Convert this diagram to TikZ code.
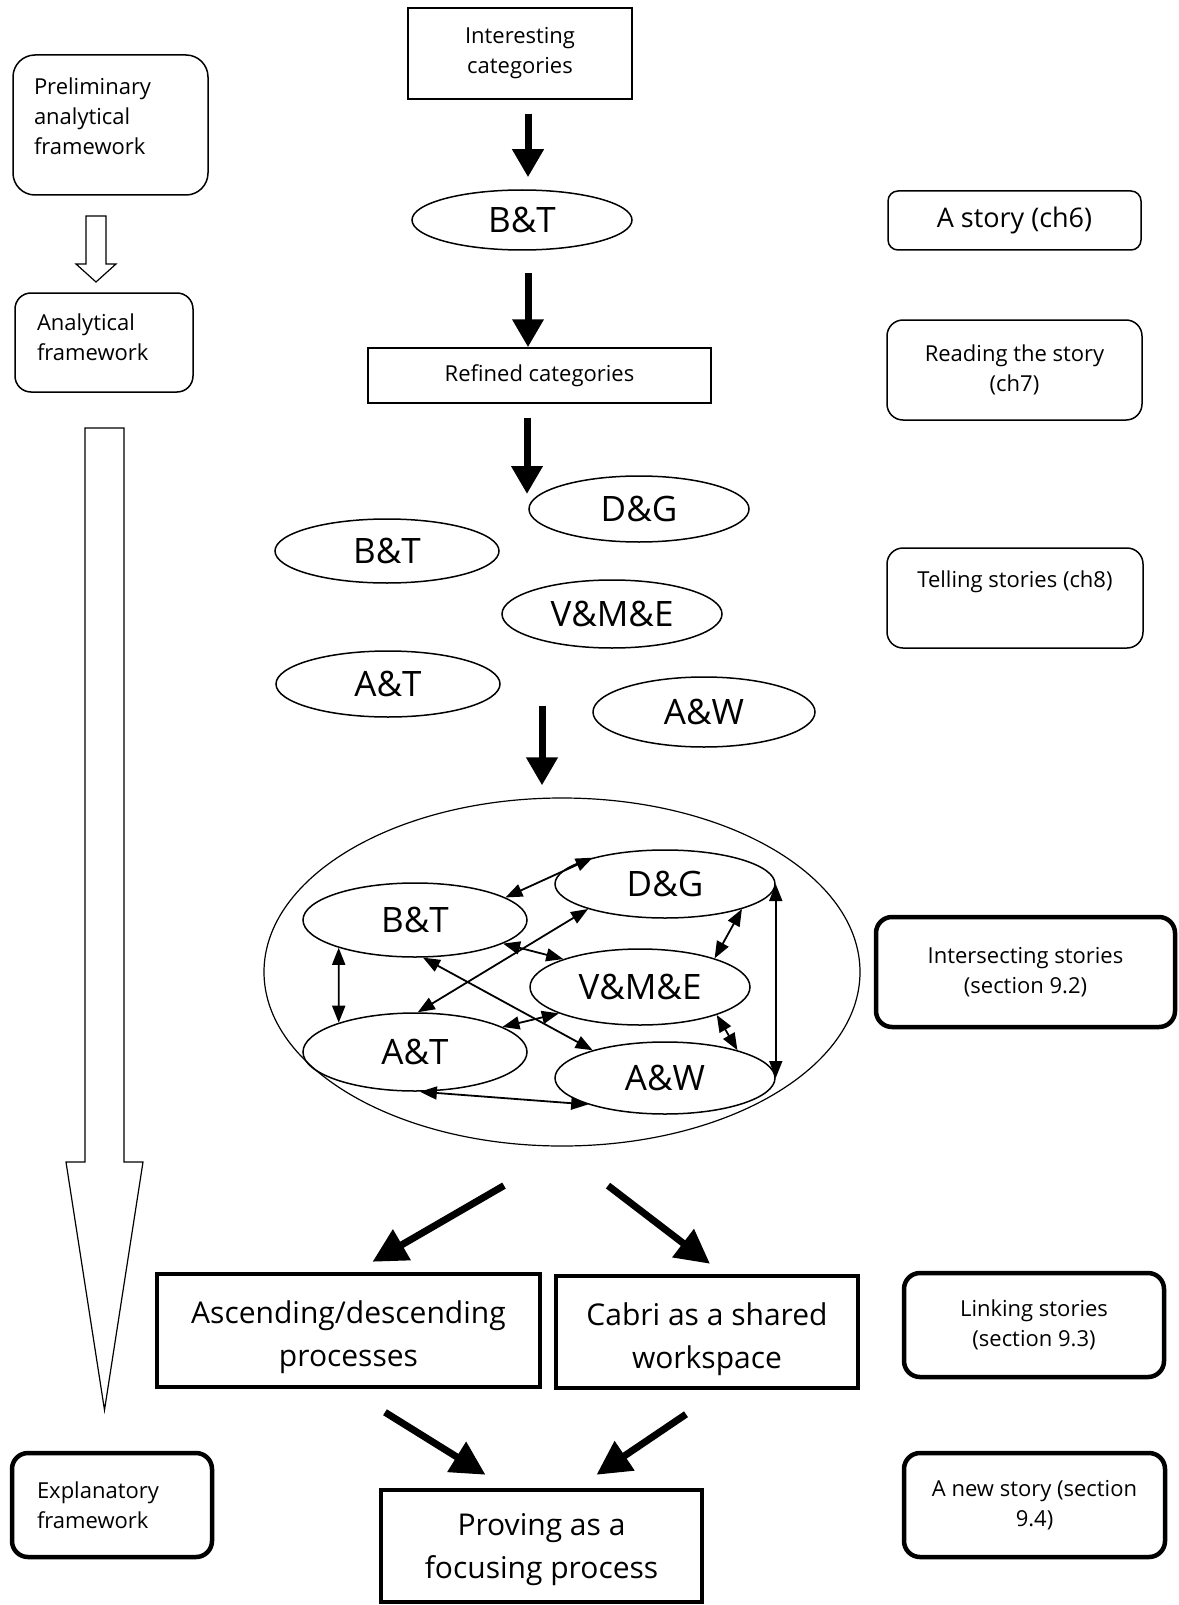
\documentclass[tikz,border=0pt]{standalone}
\usepackage{fontspec}
\setmainfont{Open Sans}
\usepackage{tikz}
\usetikzlibrary{arrows.meta, shapes.geometric}

\begin{document}
\begin{tikzpicture}[x=1pt, y=-1pt,
    txt/.style={font=\fontsize{22}{30}\selectfont},
    catbox/.style={draw, line width=1.5pt, inner sep=0pt, align=center, txt},
    oval/.style={draw, ellipse, line width=1.5pt, inner sep=0pt, font=\fontsize{35}{40}\selectfont},
    story/.style={draw, rounded corners=16pt, line width=1.5pt, inner sep=0pt, align=center, txt},
    boldstory/.style={story, line width=4.5pt},
    bigbox/.style={draw, line width=4.5pt, inner sep=0pt, align=center, text depth=0pt, text height=72pt, font=\fontsize{30}{43}\selectfont},
    bigarr/.style={line width=7pt, -{Triangle[length=28pt, width=30pt]}},
    lowarr/.style={line width=7pt, -{Triangle[length=34pt, width=34pt]}},
    linkarr/.style={line width=1.8pt, {Triangle[length=17pt, width=13pt]}-{Triangle[length=17pt, width=13pt]}},
    hollow/.style={draw, line width=1.2pt, fill=white}
]
    \useasboundingbox (0,0) rectangle (1178,1605);

    % Left column
    \node[story, rounded corners=22pt, minimum width=195pt, minimum height=140pt, text width=153pt, align=left, text depth=78pt] (prelim) at (110.5,125) {Preliminary\\analytical\\framework};
    \node[story, minimum width=178pt, minimum height=99pt, text width=134pt, align=left, text depth=41pt] (anal) at (104,342.5) {Analytical\\framework};
    \node[boldstory, minimum width=200pt, minimum height=104pt, text width=150pt, align=left] (expl) at (112,1505) {Explanatory\\framework};
    \draw[hollow] (86,216) -- (106,216) -- (106,264) -- (116,264) -- (96,282) -- (76,264) -- (86,264) -- cycle;
    \draw[hollow] (85,428) -- (124,428) -- (124,1162) -- (143,1162) -- (104.5,1410) -- (66,1162) -- (85,1162) -- cycle;

    % Categories
    \node[catbox, minimum width=224pt, minimum height=91pt] (int) at (520,53.5) {Interesting\\categories};
    \node[oval, minimum width=220pt, minimum height=60pt] (bt) at (522,220) {B\&T};
    \node[catbox, minimum width=343pt, minimum height=55pt] (ref) at (539.5,375.5) {Refined categories};
    \coordinate (mid) at (527,494);
    \coordinate (fork) at (542,706);

    \draw[bigarr, shorten <=14pt, shorten >=12pt] ([xshift=8pt]int.south) -- ([xshift=6pt]bt.north);
    \draw[bigarr, shorten <=22pt] ([xshift=6pt]bt.south) -- ([xshift=-11.5pt]ref.north);
    \draw[bigarr, shorten <=14pt] (ref.south -| mid) -- (mid);

    % Scattered categories
    \node[oval, minimum width=220pt, minimum height=66pt] (dg) at (639,509) {D\&G};
    \node[oval, minimum width=224pt, minimum height=64pt] (bt2) at (387,551) {B\&T};
    \node[oval, minimum width=220pt, minimum height=68pt] (vme) at (612,614) {V\&M\&E};
    \node[oval, minimum width=224pt, minimum height=66pt] (at) at (388,684) {A\&T};
    \node[oval, minimum width=222pt, minimum height=70pt] (aw) at (704,712) {A\&W};

    % Intersecting categories
    \node[draw, ellipse, line width=1.2pt, minimum width=596pt, minimum height=348pt] (big) at (562,972) {};
    \draw[bigarr, shorten >=12pt] (fork) -- (fork |- big.north);
    \node[oval, minimum width=220pt, minimum height=68pt] (idg) at (665,884) {D\&G};
    \node[oval, minimum width=224pt, minimum height=74pt] (ibt) at (415,920) {B\&T};
    \node[oval, minimum width=220pt, minimum height=76pt] (ivme) at (640,987) {V\&M\&E};
    \node[oval, minimum width=224pt, minimum height=78pt] (iat) at (415,1052) {A\&T};
    \node[oval, minimum width=220pt, minimum height=72pt] (iaw) at (665,1078) {A\&W};

    \draw[linkarr] (ibt.14) -- (idg.160);
    \draw[linkarr] (ibt.200) -- (iat.159);
    \draw[linkarr] (ibt.-15) -- (ivme.160);
    \draw[linkarr] (iat.86) -- (idg.198);
    \draw[linkarr] (ibt.282) -- (iaw.159);
    \draw[linkarr] (iat.16) -- (ivme.198);
    \draw[linkarr] (idg.342) -- (ivme.21);
    \draw[linkarr] (ivme.340) -- (iaw.21);
    \draw[linkarr] (idg.east) -- (iaw.east);
    \draw[linkarr] (iat.277) -- (iaw.199);

    % Themes
    \node[bigbox, minimum width=383pt, minimum height=113pt] (asc) at (348.5,1330.5) {Ascending/descending\\processes};
    \node[bigbox, minimum width=302pt, minimum height=112pt] (cab) at (707,1332) {Cabri as a shared\\workspace};
    \node[bigbox, minimum width=321pt, minimum height=112pt, text height=65pt] (prov) at (541.5,1546) {Proving as a\\focusing process};

    \draw[lowarr] ([shift={(-58,39)}]big.south) -- ([shift={(24,-10)}]asc.north);
    \draw[lowarr] ([shift={(46,39)}]big.south) -- ([shift={(3,-10)}]cab.north);
    \draw[lowarr] ([shift={(36.5,23)}]asc.south) -- ([shift={(-56,-13)}]prov.north);
    \draw[lowarr] ([shift={(-21,24)}]cab.south) -- ([shift={(55,-13)}]prov.north);

    % Stories
    \node[story, rounded corners=10pt, minimum width=253pt, minimum height=59pt, font=\fontsize{27}{32}\selectfont] (ch6) at (1014.5,220.5) {A story (ch6)};
    \node[story, minimum width=255pt, minimum height=100pt] (ch7) at (1014.5,370) {Reading the story\\(ch7)};
    \node[story, minimum width=256pt, minimum height=100pt, text depth=38pt] (ch8) at (1015,598) {Telling stories (ch8)};
    \node[boldstory, minimum width=299pt, minimum height=110pt] (s92) at (1025.5,972) {Intersecting stories\\(section 9.2)};
    \node[boldstory, minimum width=260pt, minimum height=104pt] (s93) at (1034,1325) {Linking stories\\(section 9.3)};
    \node[boldstory, minimum width=261pt, minimum height=104pt] (s94) at (1034.5,1505) {A new story (section\\9.4)};
\end{tikzpicture}
\end{document}
